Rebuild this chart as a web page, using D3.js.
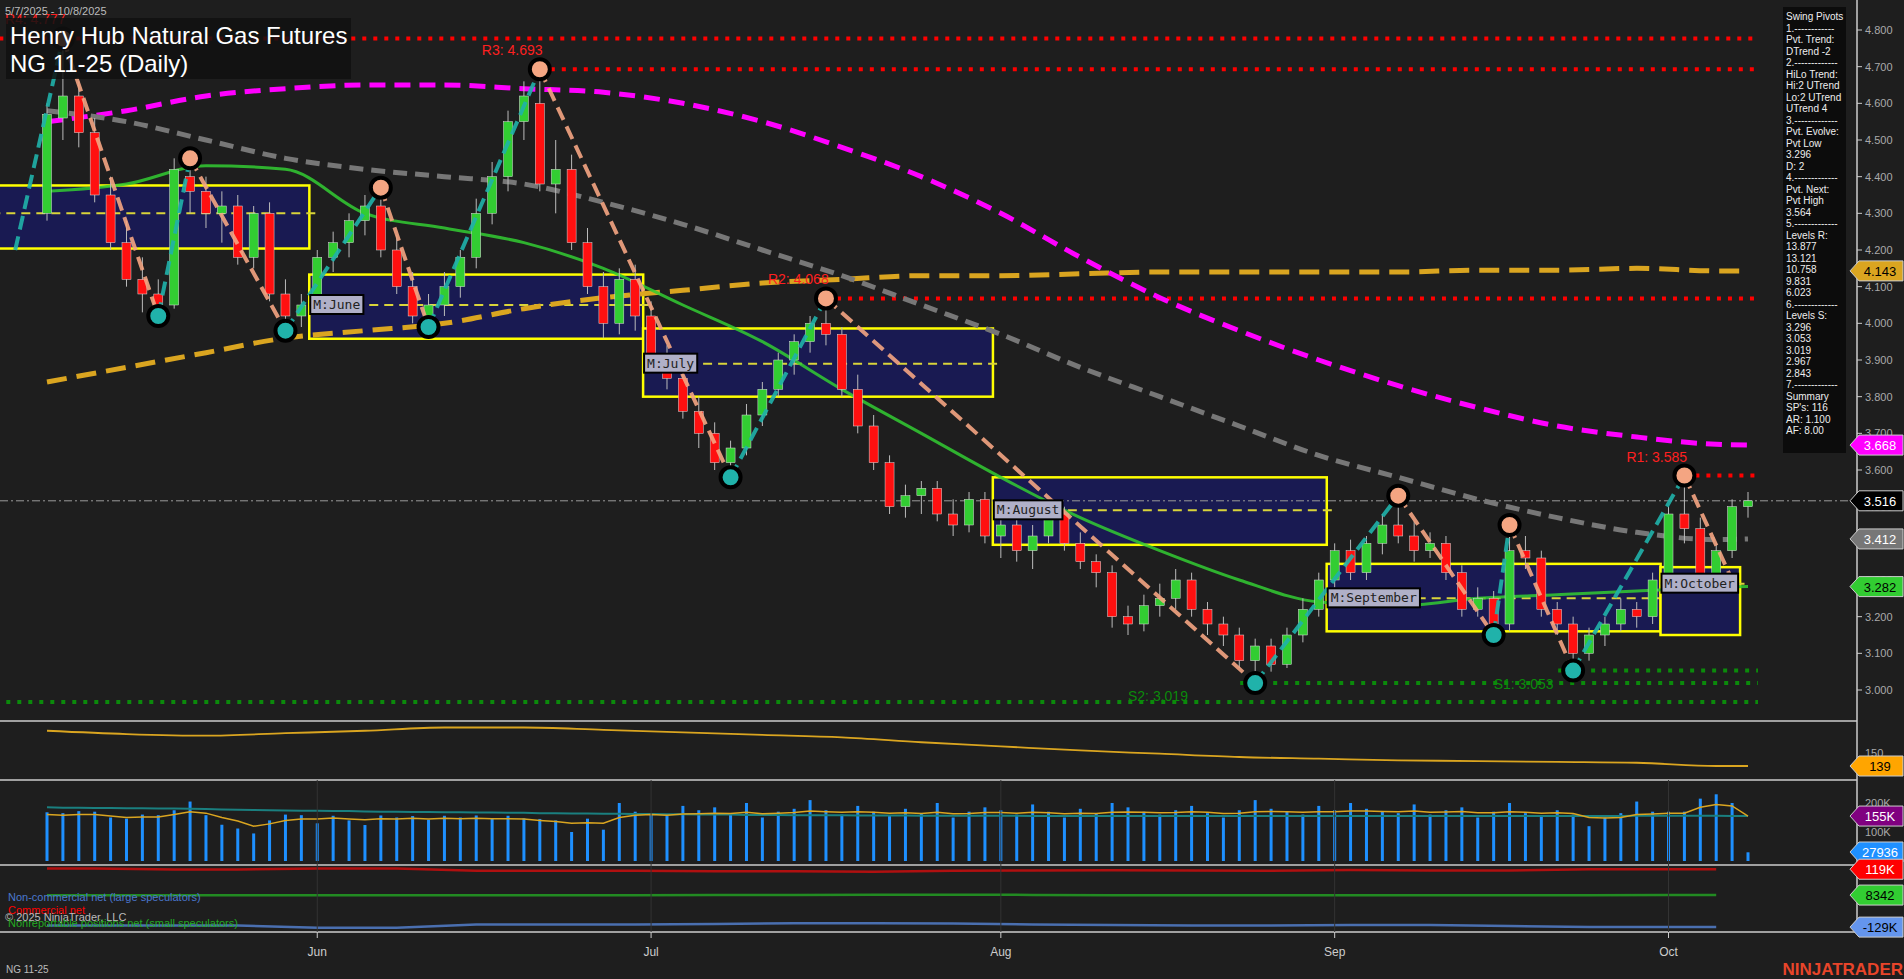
<!DOCTYPE html>
<html><head><meta charset="utf-8">
<script src="https://cdn.jsdelivr.net/npm/d3@7"></script>
<style>body{margin:0;background:#1e1e1e;overflow:hidden}svg{display:block;font-family:Arial,"Liberation Sans",sans-serif}</style>
</head><body><svg id="c" width="1904" height="979"></svg>
<script>
const ohlc=[[4.30,4.60,4.28,4.57],[4.56,4.777,4.50,4.62],[4.62,4.66,4.48,4.52],[4.52,4.56,4.33,4.35],[4.35,4.40,4.20,4.22],[4.22,4.28,4.10,4.12],[4.12,4.18,4.03,4.08],[4.08,4.12,4.02,4.05],[4.05,4.45,4.04,4.42],[4.40,4.45,4.30,4.36],[4.36,4.40,4.26,4.30],[4.30,4.36,4.22,4.32],[4.32,4.35,4.16,4.18],[4.18,4.32,4.15,4.30],[4.30,4.33,4.06,4.08],[4.08,4.12,3.98,4.02],[4.02,4.08,3.99,4.05],[4.05,4.20,4.03,4.18],[4.18,4.25,4.14,4.22],[4.22,4.30,4.18,4.28],[4.28,4.35,4.24,4.32],[4.32,4.37,4.18,4.20],[4.20,4.24,4.08,4.10],[4.10,4.14,4.00,4.02],[4.02,4.08,3.99,4.05],[4.05,4.14,4.02,4.10],[4.10,4.20,4.07,4.18],[4.18,4.34,4.15,4.30],[4.30,4.44,4.27,4.40],[4.40,4.58,4.36,4.55],[4.55,4.66,4.50,4.62],[4.60,4.693,4.36,4.38],[4.38,4.50,4.30,4.42],[4.42,4.46,4.20,4.22],[4.22,4.26,4.08,4.10],[4.10,4.14,3.96,4.00],[4.00,4.15,3.97,4.12],[4.12,4.16,3.98,4.02],[4.02,4.06,3.88,3.90],[3.90,3.94,3.82,3.85],[3.85,3.88,3.74,3.76],[3.76,3.80,3.66,3.70],[3.70,3.73,3.60,3.62],[3.62,3.68,3.58,3.66],[3.66,3.78,3.64,3.75],[3.75,3.84,3.72,3.82],[3.82,3.92,3.80,3.90],[3.90,3.97,3.86,3.95],[3.95,4.02,3.92,4.00],[4.00,4.068,3.94,3.97],[3.97,3.99,3.80,3.82],[3.82,3.86,3.70,3.72],[3.72,3.75,3.60,3.62],[3.62,3.64,3.48,3.50],[3.50,3.56,3.47,3.53],[3.53,3.57,3.48,3.55],[3.55,3.57,3.46,3.48],[3.48,3.52,3.42,3.45],[3.45,3.54,3.43,3.52],[3.52,3.54,3.40,3.42],[3.42,3.48,3.36,3.45],[3.45,3.47,3.35,3.38],[3.38,3.45,3.33,3.42],[3.42,3.50,3.40,3.48],[3.48,3.50,3.38,3.40],[3.40,3.43,3.33,3.35],[3.35,3.37,3.28,3.32],[3.32,3.34,3.17,3.20],[3.20,3.23,3.15,3.18],[3.18,3.26,3.16,3.23],[3.23,3.29,3.20,3.25],[3.25,3.33,3.22,3.30],[3.30,3.32,3.20,3.22],[3.22,3.24,3.15,3.18],[3.18,3.20,3.12,3.15],[3.15,3.17,3.06,3.08],[3.08,3.14,3.019,3.12],[3.12,3.14,3.05,3.07],[3.07,3.17,3.06,3.15],[3.15,3.25,3.13,3.22],[3.22,3.32,3.20,3.30],[3.30,3.40,3.28,3.38],[3.38,3.41,3.30,3.32],[3.32,3.42,3.30,3.40],[3.40,3.48,3.37,3.45],[3.45,3.53,3.40,3.42],[3.42,3.46,3.35,3.38],[3.38,3.43,3.36,3.40],[3.40,3.42,3.30,3.32],[3.32,3.34,3.20,3.22],[3.22,3.28,3.20,3.25],[3.25,3.27,3.15,3.18],[3.18,3.45,3.16,3.38],[3.38,3.42,3.33,3.36],[3.36,3.38,3.20,3.22],[3.22,3.24,3.15,3.18],[3.18,3.20,3.053,3.10],[3.10,3.17,3.08,3.15],[3.15,3.20,3.12,3.18],[3.18,3.25,3.16,3.22],[3.22,3.24,3.17,3.20],[3.20,3.32,3.18,3.30],[3.30,3.50,3.28,3.48],[3.48,3.585,3.40,3.44],[3.44,3.47,3.28,3.30],[3.30,3.40,3.27,3.38],[3.38,3.52,3.36,3.50],[3.50,3.54,3.47,3.516]];
const volume=[168,165,172,170,150,146,160,158,175,205,158,125,112,95,140,160,158,130,156,140,124,157,150,155,142,156,150,157,148,156,147,145,140,100,146,108,200,170,160,155,190,175,185,165,200,150,170,180,210,175,160,190,170,155,180,165,200,150,170,185,175,160,195,170,150,180,165,200,185,170,160,175,190,165,150,175,210,180,170,160,190,175,200,180,170,165,195,160,175,185,150,170,200,165,155,175,160,120,150,165,205,170,170,170,215,230,200,30];
const volAvg=[160,158,160,160,155,150,152,152,160,170,165,150,138,120,128,140,145,145,148,145,142,146,145,147,145,147,146,147,146,146,145,140,136,130,132,130,150,158,160,158,162,163,165,164,168,163,165,167,172,170,168,170,168,165,166,164,168,163,164,167,167,165,168,166,163,165,164,168,169,168,166,167,170,168,164,165,170,171,170,168,170,170,172,172,171,170,172,168,169,171,166,166,170,168,165,166,164,150,148,150,160,162,165,165,185,195,190,155];
const volLong=[185,184,184,183,183,182,182,181,181,180,179,178,177,176,175,174,173,173,172,172,171,170,170,169,169,168,168,167,167,166,166,165,165,164,164,163,163,162,162,161,161,160,160,160,159,159,159,158,158,158,158,157,157,157,157,156,156,156,156,156,156,156,155,155,155,155,155,155,155,155,155,155,155,155,155,155,155,155,155,155,155,155,155,155,155,155,155,155,155,155,155,155,155,155,155,155,155,155,155,155,156,156,156,156,156,156,155,155];
const maIdx=[0,5,10,15,20,25,30,35,40,45,50,55,60,65,70,75,80,85,90,95,100,105,107];
const maGreen=[4.36,4.38,4.43,4.42,4.30,4.26,4.22,4.15,4.05,3.95,3.82,3.70,3.58,3.47,3.38,3.30,3.24,3.23,3.25,3.26,3.27,3.28,3.282];
const maGray=[4.58,4.55,4.50,4.45,4.42,4.40,4.38,4.33,4.27,4.20,4.13,4.05,3.97,3.88,3.80,3.72,3.64,3.58,3.52,3.47,3.43,3.41,3.412];
const maMagenta=[4.55,4.58,4.62,4.64,4.65,4.65,4.64,4.63,4.60,4.55,4.48,4.40,4.30,4.18,4.07,3.98,3.90,3.83,3.77,3.72,3.69,3.67,3.668];
const maOrange=[3.84,3.88,3.92,3.96,3.98,4.00,4.04,4.07,4.09,4.11,4.12,4.13,4.13,4.135,4.14,4.14,4.14,4.14,4.145,4.145,4.15,4.143,4.143];
const p2Val=[182,178,176,179,182,186,186,183,180,177,174,168,163,158,154,150,148,146,145,144,143,139,139];
const cotIdx=[0,3,8,12,17,22,27,32,37,42,47,52,57,62,67,72,77,82,87,92,97,102,105];
const cotComm=[122,122,118,118,122,122,112,112,113,110,110,108,112,114,115,114,113,116,114,114,119,119,119];
const cotSmall=[8,8,8,8,8,8,8,8,8,9,9,10,10,9,8,8,8,8,8,8,8,8.3,8.3];
const cotNonc=[-122,-122,-122,-122,-132,-132,-118,-118,-118,-116,-112,-112,-114,-118,-120,-122,-122,-120,-120,-124,-129,-129,-129];
const pivots=[[-2,4.20,"L"],[1,4.777,"H"],[7,4.02,"L"],[9,4.45,"H"],[15,3.98,"L"],[21,4.37,"H"],[24,3.99,"L"],[31,4.693,"H"],[43,3.58,"L"],[49,4.068,"H"],[76,3.019,"L"],[85,3.53,"H"],[91,3.15,"L"],[92,3.45,"H"],[96,3.053,"L"],[103,3.585,"H"],[106,3.30,"L"]];
const boxes=[["",-3,16,4.376,4.204,4.30],["M:June",17,37,4.133,3.958,4.05],["M:July",38,59,3.986,3.80,3.89],["M:August",60,80,3.58,3.396,3.49],["M:September",81,101,3.344,3.16,3.25],["M:October",102,106,3.335,3.15,3.29]];
const resLevels=[["R4: 4.777",4.777,-3,1],["R3: 4.693",4.693,31,31],["R2: 4.068",4.068,49,49],["R1: 3.585",3.585,103,103]];
const supLevels=[["S2: 3.019",3.019,76,68],["S1: 3.053",3.053,96,91],["",2.967,-3,0]];
const monthTicks=[["Jun",17],["Jul",38],["Aug",60],["Sep",81],["Oct",102]];
const infoLines=["Swing Pivots","1.------------","Pvt. Trend:","DTrend -2","2.-------------","HiLo Trend:","Hi:2 UTrend","Lo:2 UTrend","UTrend 4","3.-------------","Pvt. Evolve:","Pvt Low","3.296","D: 2","4.-------------","Pvt. Next:","Pvt High","3.564","5.-------------","Levels R:","13.877","13.121","10.758","9.831","6.023","6.-------------","Levels S:","3.296","3.053","3.019","2.967","2.843","7.-------------","Summary","SP's: 116","AR: 1.100","AF: 8.00"];

const svg=d3.select("#c");
const AX=1857;
const x=d3.scaleLinear().domain([0,107]).range([47,1748]);
const y=d3.scaleLinear().domain([3.0,4.8]).range([690,30]);
const yP2=d3.scaleLinear().domain([100,200]).range([798,716]);
const yV=d3.scaleLinear().domain([0,200]).range([861,803]);
const yC=d3.scaleLinear().domain([-150,150]).range([932,862]);
const g=svg.append("g");
// clip main
svg.append("clipPath").attr("id","cm").append("rect").attr("x",0).attr("y",0).attr("width",AX).attr("height",721);
const m=g.append("g").attr("clip-path","url(#cm)");
// boxes
boxes.forEach(b=>{
  const x0=x(b[1])-8,x1=x(b[2])+8;
  m.append("rect").attr("x",x0).attr("y",y(b[3])).attr("width",x1-x0).attr("height",y(b[4])-y(b[3])).attr("fill","#191a52").attr("stroke","#ffff00").attr("stroke-width",2.5);
  m.append("line").attr("x1",x0).attr("x2",x1+8).attr("y1",y(b[5])).attr("y2",y(b[5])).attr("stroke","#d9d43a").attr("stroke-width",2).attr("stroke-dasharray","9,6");
});
// levels
const line=d3.line().x(d=>x(d[0])).y(d=>y(d[1])).curve(d3.curveMonotoneX);
resLevels.forEach(r=>{m.append("line").attr("x1",x(r[2])).attr("x2",x(107)+10).attr("y1",y(r[1])).attr("y2",y(r[1])).attr("stroke","#ff0000").attr("stroke-width",4).attr("stroke-dasharray","4,7");});
supLevels.forEach(r=>{m.append("line").attr("x1",x(r[2])-15).attr("x2",x(107)+10).attr("y1",y(r[1])).attr("y2",y(r[1])).attr("stroke","#0b8a0b").attr("stroke-width",4).attr("stroke-dasharray","4,7");});
m.append("line").attr("x1",0).attr("x2",AX).attr("y1",y(3.516)).attr("y2",y(3.516)).attr("stroke","#999").attr("stroke-width",1).attr("stroke-dasharray","8,3,2,3");
// MAs
const mk=(arr)=>maIdx.map((i,k)=>[i,arr[k]]);
m.append("path").attr("d",line(mk(maOrange))).attr("fill","none").attr("stroke","#daa520").attr("stroke-width",5).attr("stroke-dasharray","20,10");
m.append("path").attr("d",line(mk(maMagenta))).attr("fill","none").attr("stroke","#ff00ff").attr("stroke-width",5).attr("stroke-dasharray","16,9");
m.append("path").attr("d",line(mk(maGray))).attr("fill","none").attr("stroke","#777").attr("stroke-width",5).attr("stroke-dasharray","14,8");
m.append("path").attr("d",line(mk(maGreen))).attr("fill","none").attr("stroke","#32cd32").attr("stroke-width",3).attr("opacity",0.85);
// candles
ohlc.forEach((c,i)=>{
  const up=c[3]>=c[0], col=up?"#32cd32":"#ff1010";
  m.append("line").attr("x1",x(i)).attr("x2",x(i)).attr("y1",y(c[1])).attr("y2",y(c[2])).attr("stroke","#bbb").attr("stroke-width",1);
  const t=y(Math.max(c[0],c[3])),b=y(Math.min(c[0],c[3]));
  m.append("rect").attr("x",x(i)-4.5).attr("y",t).attr("width",9).attr("height",Math.max(1.5,b-t)).attr("fill",col).attr("stroke","#ddd").attr("stroke-width",0.5);
});
// zigzag
for(let k=0;k<pivots.length-1;k++){
  const a=pivots[k],b=pivots[k+1];
  m.append("line").attr("x1",x(a[0])).attr("y1",y(a[1])).attr("x2",x(b[0])).attr("y2",y(b[1])).attr("stroke",b[2]==="H"?"#20b2aa":"#f4a582").attr("stroke-width",4).attr("stroke-dasharray","14,7").attr("opacity",0.9);
}
pivots.slice(1,-1).forEach(p=>{
  m.append("circle").attr("cx",x(p[0])).attr("cy",y(p[1])).attr("r",10).attr("fill",p[2]==="H"?"#f4a582":"#20b2aa").attr("stroke","#000").attr("stroke-width",4);
});
// box labels
boxes.forEach(b=>{ if(!b[0])return;
  const tx=m.append("text").attr("x",x(b[1])-4).attr("y",y(b[5])+4).attr("font-family","DejaVu Sans Mono,monospace").attr("font-size",13).attr("fill","#222").text(b[0]);
  const bb=tx.node().getBBox();
  m.insert("rect","text:last-child").attr("x",bb.x-3).attr("y",bb.y-2).attr("width",bb.width+6).attr("height",bb.height+4).attr("fill","#b0b0c8").attr("stroke","#000").attr("stroke-width",2);
  tx.raise();
});
// level labels
resLevels.forEach(r=>m.append("text").attr("x",x(r[3])-58).attr("y",y(r[1])-14).attr("fill","#ff2020").attr("font-size",14).text(r[0]));
supLevels.forEach(r=>{if(r[0])m.append("text").attr("x",x(r[3])).attr("y",y(r[1])+18).attr("fill","#0b8a0b").attr("font-size",14).text(r[0]);});
// panel separators
[721,780,865,932].forEach(v=>g.append("line").attr("x1",0).attr("x2",AX).attr("y1",v).attr("y2",v).attr("stroke","#ccc").attr("stroke-width",1.5));
g.append("line").attr("x1",AX).attr("x2",AX).attr("y1",0).attr("y2",932).attr("stroke","#ccc").attr("stroke-width",1.5);
// panel2
g.append("path").attr("d",d3.line().x(d=>x(d[0])).y(d=>yP2(d[1])).curve(d3.curveMonotoneX)(maIdx.map((i,k)=>[i,p2Val[k]]))).attr("fill","none").attr("stroke","#daa520").attr("stroke-width",1.8);
// volume
volume.forEach((v,i)=>g.append("rect").attr("x",x(i)-1.5).attr("y",yV(v)).attr("width",3).attr("height",yV(0)-yV(v)).attr("fill","#1e90ff"));
g.append("path").attr("d",d3.line().x((d,i)=>x(i)).y(d=>yV(d))(volLong)).attr("fill","none").attr("stroke","#1a7f7f").attr("stroke-width",2);
g.append("path").attr("d",d3.line().x((d,i)=>x(i)).y(d=>yV(d))(volAvg)).attr("fill","none").attr("stroke","#daa520").attr("stroke-width",1.5);
// COT
const cl=d3.line().x(d=>x(d[0])).y(d=>yC(d[1]));
[[cotComm,"#b01010"],[cotSmall,"#228b22"],[cotNonc,"#4a6fb0"]].forEach(([a,c])=>g.append("path").attr("d",cl(cotIdx.map((i,k)=>[i,a[k]]))).attr("fill","none").attr("stroke",c).attr("stroke-width",2.5));
// month ticks
monthTicks.forEach(t=>{
  g.append("line").attr("x1",x(t[1])).attr("x2",x(t[1])).attr("y1",780).attr("y2",932).attr("stroke","#333");
  g.append("line").attr("x1",x(t[1])).attr("x2",x(t[1])).attr("y1",932).attr("y2",938).attr("stroke","#ccc");
  g.append("text").attr("x",x(t[1])).attr("y",956).attr("text-anchor","middle").attr("fill","#ccc").attr("font-size",12).text(t[0]);
});
// price axis ticks
d3.range(30,49).map(v=>v/10).forEach(p=>{
  g.append("line").attr("x1",AX).attr("x2",AX+5).attr("y1",y(p)).attr("y2",y(p)).attr("stroke","#ccc");
  g.append("text").attr("x",AX+8).attr("y",y(p)+4).attr("fill","#aaa").attr("font-size",11).text(p.toFixed(3));
});
[[757,"150"]].forEach(t=>g.append("text").attr("x",AX+8).attr("y",t[0]).attr("fill","#aaa").attr("font-size",11).text(t[1]));
[[200,"200K"],[100,"100K"]].forEach(t=>g.append("text").attr("x",AX+8).attr("y",yV(t[0])+4).attr("fill","#aaa").attr("font-size",11).text(t[1]));
function badge(yy,txt,bg,fg,stroke){
  g.append("path").attr("d",`M1850,${yy}L1859,${yy-10}L1903,${yy-10}L1903,${yy+10}L1859,${yy+10}Z`).attr("fill",bg).attr("stroke",stroke||"#ccc").attr("stroke-width",1);
  g.append("text").attr("x",1880).attr("y",yy+5).attr("text-anchor","middle").attr("fill",fg).attr("font-size",13).text(txt);
}
badge(y(4.143),"4.143","#daa520","#000");
badge(y(3.668),"3.668","#ff00ff","#fff");
badge(y(3.516),"3.516","#000","#fff");
badge(y(3.412),"3.412","#777","#fff");
badge(y(3.282),"3.282","#32cd32","#000");
badge(766,"139","#ffa500","#000");
badge(yV(155),"155K","#800080","#fff");
badge(852,"27936","#1e90ff","#fff");
badge(yC(119),"119K","#ff0000","#fff");
badge(yC(8.3),"8342","#32cd32","#000");
badge(yC(-129),"-129K","#6495ed","#000");
// info panel
g.append("rect").attr("x",1783).attr("y",7).attr("width",63).attr("height",446).attr("fill","#0c0c0c");
infoLines.forEach((t,i)=>g.append("text").attr("x",1786).attr("y",20+i*11.5).attr("fill","#eee").attr("font-size",10).text(t));
// title
g.append("text").attr("x",5).attr("y",15).attr("fill","#bbb").attr("font-size",11).text("5/7/2025 - 10/8/2025");
g.append("rect").attr("x",6).attr("y",18).attr("width",345).attr("height",61).attr("fill","#111").attr("opacity",0.85);
g.append("text").attr("x",10).attr("y",44).attr("fill","#fff").attr("font-size",24).text("Henry Hub Natural Gas Futures");
g.append("text").attr("x",10).attr("y",72).attr("fill","#fff").attr("font-size",24).text("NG 11-25 (Daily)");
// legends
g.append("text").attr("x",8).attr("y",901).attr("fill","#4a78d0").attr("font-size",11).text("Non-commercial net (large speculators)");
g.append("text").attr("x",8).attr("y",914).attr("fill","#ff0000").attr("font-size",11).text("Commercial net");
g.append("text").attr("x",5).attr("y",921).attr("fill","#bbb").attr("font-size",11).text("© 2025 NinjaTrader, LLC");
g.append("text").attr("x",8).attr("y",927).attr("fill","#22aa22").attr("font-size",11).text("Nonreportable positions net (small speculators)");
g.append("text").attr("x",6).attr("y",973).attr("fill","#bbb").attr("font-size",10).text("NG 11-25");
g.append("text").attr("x",1903).attr("y",975).attr("text-anchor","end").attr("fill","#e8452a").attr("font-size",17).attr("font-weight","bold").text("NINJATRADER");
</script></body></html>
